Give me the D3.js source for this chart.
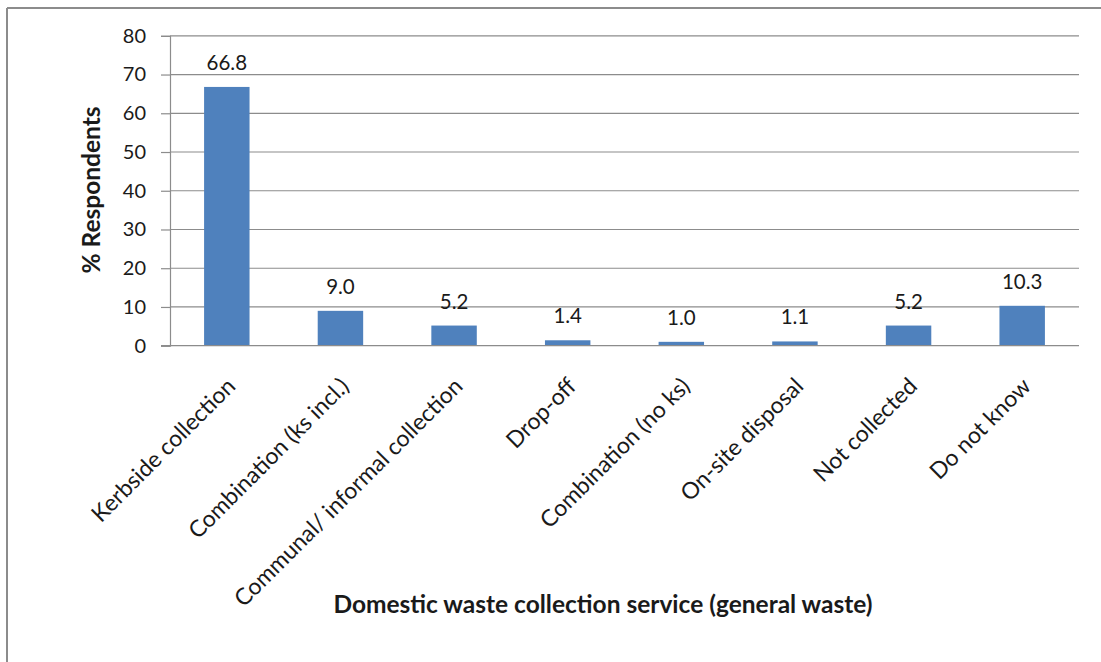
<!DOCTYPE html>
<html>
<head>
<meta charset="utf-8">
<script src="https://cdn.jsdelivr.net/npm/d3@7"></script>
<style>
  html, body { margin: 0; padding: 0; background: #fff; }
  svg { display: block; }
  text { font-family: Lato, "Open Sans", sans-serif; fill: #1a1a1a; }
</style>
</head>
<body>
<svg id="chart" width="1101" height="662"></svg>
<script>
// Collection service categories and share of respondents (%)
const categories = [
  "Kerbside collection",
  "Combination (ks incl.)",
  "Communal/ informal collection",
  "Drop-off",
  "Combination (no ks)",
  "On-site disposal",
  "Not collected",
  "Do not know"
];
const values = [66.8, 9.0, 5.2, 1.4, 1.0, 1.1, 5.2, 10.3];
const yTicks = [0, 10, 20, 30, 40, 50, 60, 70, 80];
const yTitle = "% Respondents";
const xTitle = "Domestic waste collection service (general waste)";

const svg = d3.select("#chart");
const W = 1101, H = 662;
const plot = { left: 170, right: 1079, top: 35.8, bottom: 345.7 };

// Outer frame (top and left edges visible)
svg.append("line").attr("x1", 7).attr("x2", W).attr("y1", 8).attr("y2", 8)
  .attr("stroke", "#8c8c8c").attr("stroke-width", 2);
svg.append("line").attr("x1", 7).attr("x2", 7).attr("y1", 8).attr("y2", H)
  .attr("stroke", "#8c8c8c").attr("stroke-width", 2);

const x = d3.scaleBand().domain(categories).range([plot.left, plot.right]).paddingInner(0.6).paddingOuter(0.3);
const y = d3.scaleLinear().domain([0, 80]).range([plot.bottom, plot.top]);

// Horizontal gridlines
svg.append("g").selectAll("line").data(yTicks.filter(d => d > 0)).join("line")
  .attr("x1", plot.left).attr("x2", plot.right)
  .attr("y1", d => y(d)).attr("y2", d => y(d))
  .attr("stroke", "#8c8c8c").attr("stroke-width", 1.2);

// Bars
svg.append("g").selectAll("rect").data(values).join("rect")
  .attr("x", (d, i) => x(categories[i]))
  .attr("width", x.bandwidth())
  .attr("y", d => y(d))
  .attr("height", d => y(0) - y(d))
  .attr("fill", "#4f81bd");

// Value labels
svg.append("g").selectAll("text").data(values).join("text")
  .attr("x", (d, i) => x(categories[i]) + x.bandwidth() / 2)
  .attr("y", d => y(d) - 17)
  .attr("text-anchor", "middle")
  .attr("font-size", 20.5)
  .text(d => d.toFixed(1));

// Y axis
const yAxis = svg.append("g").attr("transform", `translate(${plot.left},0)`)
  .call(d3.axisLeft(y).tickValues(yTicks).tickSize(9).tickPadding(15));
yAxis.selectAll(".domain").attr("stroke", "#8c8c8c").attr("stroke-width", 1.2);
yAxis.selectAll(".tick line").attr("stroke", "#8c8c8c").attr("stroke-width", 1.2);
yAxis.selectAll(".tick text").attr("font-size", 20).attr("font-family", "Lato, sans-serif").attr("fill", "#1a1a1a");

// X axis baseline
svg.append("line").attr("x1", plot.left - 9).attr("x2", plot.right)
  .attr("y1", y(0)).attr("y2", y(0))
  .attr("stroke", "#8c8c8c").attr("stroke-width", 1.2);

// Rotated category labels
svg.append("g").selectAll("text").data(categories).join("text")
  .attr("transform", d => `translate(${x(d) + x.bandwidth() / 2 + 10},${plot.bottom + 42}) rotate(-45)`)
  .attr("text-anchor", "end")
  .attr("font-size", 23)
  .text(d => d);

// Axis titles
svg.append("text")
  .attr("transform", `translate(100,190) rotate(-90)`)
  .attr("text-anchor", "middle")
  .attr("font-size", 24.5).attr("font-weight", "bold")
  .text(yTitle);

svg.append("text")
  .attr("x", 603).attr("y", 613)
  .attr("text-anchor", "middle")
  .attr("font-size", 24.5).attr("font-weight", "bold")
  .text(xTitle);
</script>
</body>
</html>
